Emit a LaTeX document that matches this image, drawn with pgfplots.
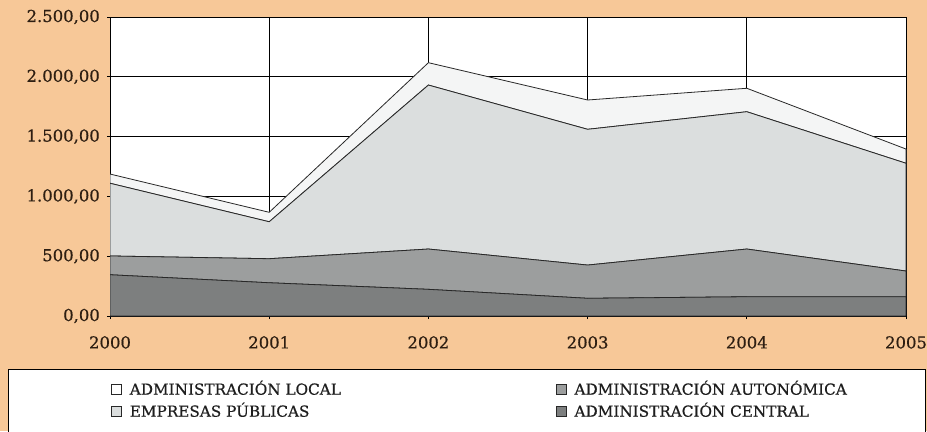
\documentclass[border=0pt]{standalone}
\usepackage{pgfplots}
\pgfplotsset{compat=1.18}
\usepackage{fontspec}
\setmainfont{DejaVu Serif}[FakeBold=0.6]
\definecolor{bg}{RGB}{247,200,152}
\definecolor{cen}{RGB}{125,127,127}
\definecolor{aut}{RGB}{156,158,158}
\definecolor{emp}{RGB}{219,222,222}
\definecolor{loc}{RGB}{244,245,245}
\definecolor{edge}{RGB}{40,40,40}
\definecolor{txt}{RGB}{45,30,18}
\definecolor{ltxt}{RGB}{30,30,30}
\begin{document}
\begin{tikzpicture}[x=1bp,y=1bp]
\path[use as bounding box] (0,0) rectangle (927,431);
\fill[bg] (0,0) rectangle (927,431);
\begin{scope}
\clip (0,0) rectangle (927,431);
\filldraw[fill=white, draw=black, line width=1bp] (8,-5) rectangle (925,62);
\end{scope}
\begin{axis}[
  scale only axis, width=796bp, height=299bp,
  at={(110bp,115bp)}, anchor=south west,
  axis background/.style={fill=white},
  xmin=2000, xmax=2005, ymin=0, ymax=2500,
  xtick={2000,2001,2002,2003,2004,2005},
  xticklabels={2000,2001,2002,2003,2004,2005},
  ytick={0,500,1000,1500,2000,2500},
  yticklabels={{0,00},{500,00},{1.000,00},{1.500,00},{2.000,00},{2.500,00}},
  tick align=outside, major tick length=3bp, tick pos=left,
  tick style={black, line width=0.8bp},
  grid=major, major grid style={black, line width=0.8bp},
  axis line style={black, line width=0.8bp},
  xticklabel style={font=\fontsize{16.5}{18}\selectfont, text=txt, anchor=north, inner sep=0pt, yshift=-17bp},
  yticklabel style={font=\fontsize{16.5}{18}\selectfont, text=txt, anchor=east, inner sep=0pt, xshift=-7bp},
  stack plots=y,
  legend columns=2,
  legend cell align=left,
  legend image code/.code={\draw[#1, line width=0.6bp] (0bp,-5bp) rectangle (10bp,5bp);},
  legend style={at={(axis description cs:0.00126,-0.2258)}, anchor=north west,
    draw=none, fill=none, inner sep=0pt, row sep=11bp,
    font=\fontsize{15.3}{18}\selectfont, text=ltxt,
    nodes={text height=11bp, text depth=0bp, inner ysep=0pt, inner xsep=5bp},
    /tikz/every odd column/.append style={column sep=3bp},
    /tikz/every even column/.append style={column sep=210bp}},
  legend entries={ADMINISTRACIÓN LOCAL, ADMINISTRACIÓN AUTONÓMICA, EMPRESAS PÚBLICAS, ADMINISTRACIÓN CENTRAL},
]
\addlegendimage{fill=white, draw=edge}
\addlegendimage{fill=aut, draw=edge}
\addlegendimage{fill=emp, draw=edge}
\addlegendimage{fill=cen, draw=edge}
\addplot[fill=cen, draw=edge, line width=0.8bp] coordinates {(2000,345)(2001,278)(2002,223)(2003,148)(2004,161)(2005,161)} \closedcycle;
\addplot[fill=aut, draw=edge, line width=0.8bp] coordinates {(2000,157)(2001,201)(2002,337)(2003,278)(2004,399)(2005,215)} \closedcycle;
\addplot[fill=emp, draw=edge, line width=0.8bp] coordinates {(2000,608)(2001,309)(2002,1371)(2003,1135)(2004,1148)(2005,901)} \closedcycle;
\addplot[fill=loc, draw=edge, line width=0.8bp] coordinates {(2000,77)(2001,79)(2002,187)(2003,245)(2004,196)(2005,119)} \closedcycle;
\end{axis}
\end{tikzpicture}
\end{document}
